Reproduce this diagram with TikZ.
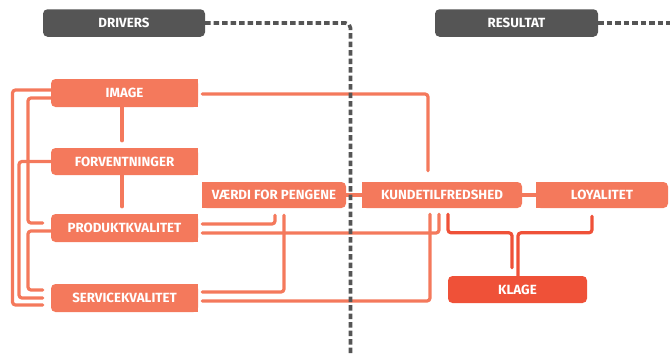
\documentclass[tikz,border=0pt]{standalone}
\usepackage{fontspec}
\setmainfont{Fira Sans}
\usetikzlibrary{calc,backgrounds}
\definecolor{coral}{RGB}{244,121,92}
\definecolor{redk}{RGB}{239,81,56}
\definecolor{slate}{RGB}{85,85,85}
\tikzset{
  lbl/.style={text=white, font=\bfseries\fontsize{13.3}{13.3}\selectfont, inner sep=0pt, rounded corners=4.5pt},
  box/.style={lbl, fill=coral, minimum height=28pt},
  rbox/.style={lbl, fill=coral, minimum height=26pt},
  kbox/.style={lbl, fill=redk, minimum height=27pt},
  hbox/.style={lbl, fill=slate, minimum height=27.5pt},
  conn/.style={draw=coral, line width=3.2pt, line cap=round, rounded corners=3pt},
  kconn/.style={draw=redk, line width=3.2pt, line cap=round, rounded corners=3pt},
  dashln/.style={draw=slate, line width=3.6pt, line cap=butt, dash pattern=on 5.5pt off 3pt, rounded corners=5pt}
}
\begin{document}
\begin{tikzpicture}[x=1pt,y=-1pt]
\useasboundingbox (0,0) rectangle (670,354);
% header boxes
\node[hbox, minimum width=162pt] (drivers) at (124,23) {DRIVERS};
\node[hbox, minimum width=163pt] (resultat) at (516.5,23) {RESULTAT};
% drivers
\node[box, minimum width=147pt] (image) at (124.5,93) {IMAGE};
\node[box, minimum width=147pt, minimum height=27pt] (forv) at (124.5,161.5) {FORVENTNINGER};
\node[box, minimum width=147pt] (prod) at (124.5,228) {PRODUKTKVALITET};
\node[box, minimum width=147pt] (serv) at (124.5,298) {SERVICEKVALITET};
\node[rbox, minimum width=144pt] (vaerdi) at (274,195) {VÆRDI FOR PENGENE};
% results
\node[rbox, minimum width=160pt] (kunde) at (442,195) {KUNDETILFREDSHED};
\node[rbox, minimum width=132pt] (loyal) at (602,195) {LOYALITET};
\node[kbox, minimum width=139pt] (klage) at (517.5,289.5) {KLAGE};
% square corners
\begin{scope}[on background layer]
  \foreach \n in {image,forv,prod,serv}{\fill[coral] (\n.north) rectangle (\n.south east);}
  \foreach \n in {vaerdi,kunde,loyal}{\fill[coral] (\n.north west) rectangle (\n.south);}
\end{scope}
% left brackets
\draw[conn] ($(image.west)+(0,-3)$) -| (12.5,305) -- ($(serv.west)+(-8,7)$);
\draw[conn] (forv.west) -| (19,298) -- ($(serv.west)+(-8,0)$);
\draw[conn] ($(image.west)+(0,5)$) -| (28,223) -- ($(prod.west)+(-8,-5)$);
\draw[conn] ($(prod.west)+(0,3)$) -| (28,290) -- ($(serv.west)+(-8,-8)$);
% vertical chain
\draw[conn] ($(image.south)+(-2.5,0)$) -- ($(forv.north)+(-2.5,-7)$);
\draw[conn] ($(forv.south)+(-2.5,0)$) -- ($(prod.north)+(-2.5,-7)$);
% to the right
\draw[conn] ($(image.east)+(4,1)$) -| ($(kunde.north)+(-14,-11)$);
\draw[conn] ($(prod.east)+(4,-4)$) -| ($(vaerdi.south)+(1,7)$);
\draw[conn] ($(prod.east)+(4,5)$) -| ($(kunde.south)+(-3,6)$);
\draw[conn] ($(serv.east)+(4,-6)$) -| ($(vaerdi.south)+(10,7)$);
\draw[conn] ($(serv.east)+(4,3)$) -| ($(kunde.south)+(-12,6)$);
\draw[conn] (vaerdi.east) -- (kunde.west);
\draw[conn] (kunde.east) -- (loyal.west);
% to klage
\draw[kconn] ($(kunde.south)+(6,6)$) |- ($(klage.north)+(-5.5,-43)$) -- ($(klage.north)+(-5.5,-8)$);
\draw[kconn] ($(loyal.south)+(-10,8)$) |- ($(klage.north)+(0.5,-43)$) -- ($(klage.north)+(0.5,0)$);
% dashed dividers
\coordinate (dend) at (350.5,356);
\coordinate (rend) at (672,23);
\draw[dashln] (drivers.east) -| (dend);
\draw[dashln] (resultat.east) -- (rend);
\end{tikzpicture}
\end{document}
